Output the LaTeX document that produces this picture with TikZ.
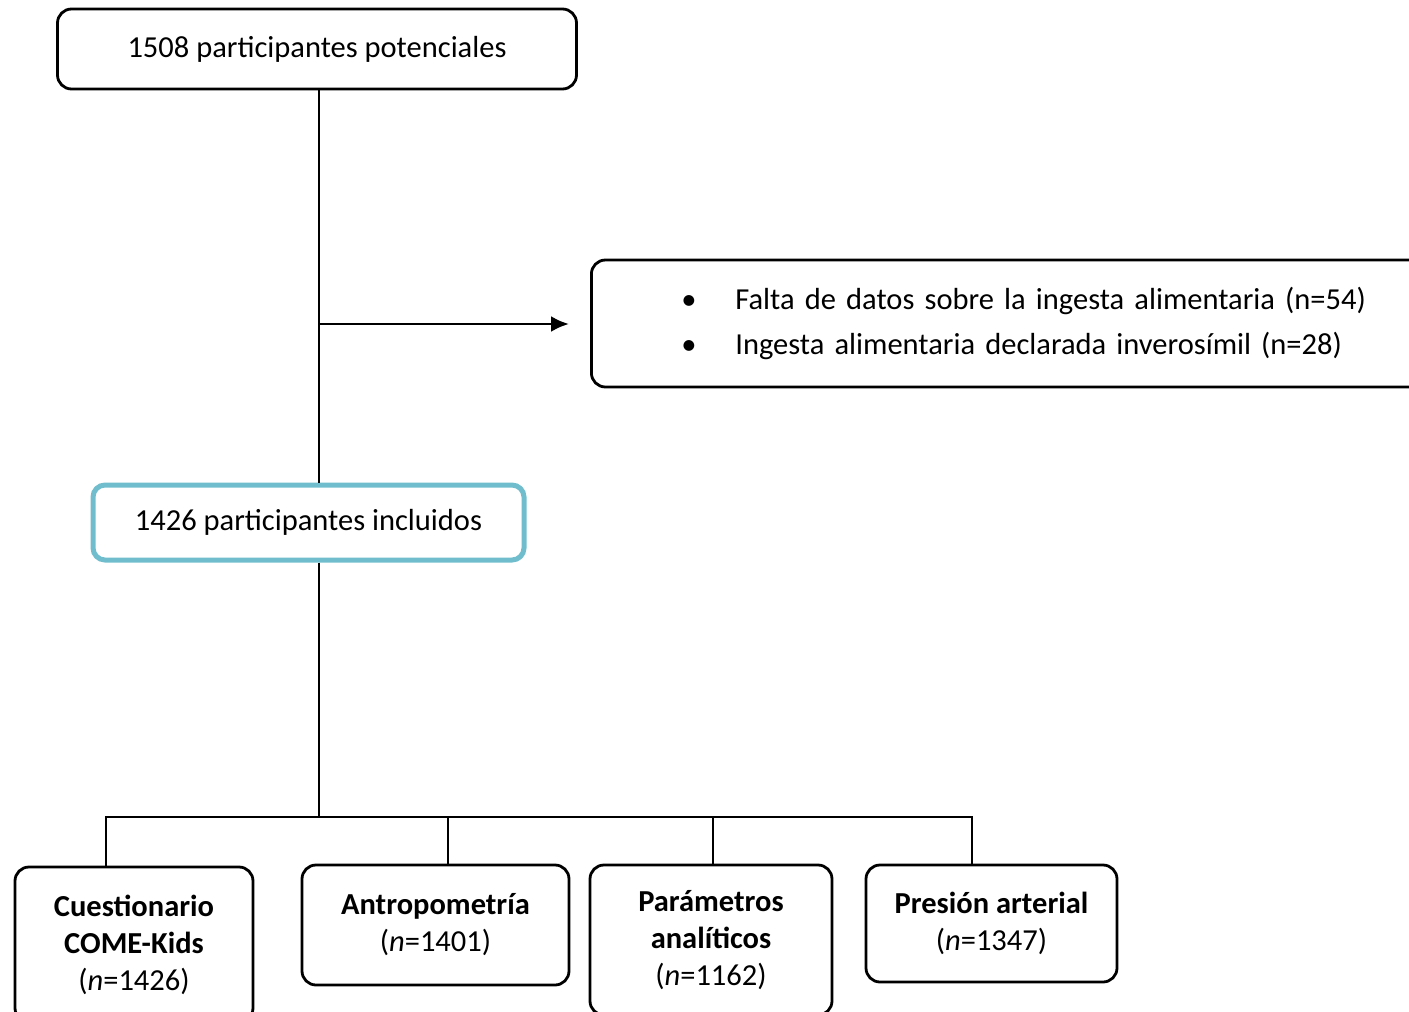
\documentclass[tikz,border=0pt]{standalone}
\usepackage{fontspec}
\setmainfont{Carlito}
\usetikzlibrary{positioning}
\usetikzlibrary{arrows.meta}
\usetikzlibrary{calc}
\definecolor{inclteal}{RGB}{112,190,205}
\tikzstyle{line} = [draw, line width=2.8pt]

\begin{document}
\begin{tikzpicture}[x=1pt, y=-1pt,
				box/.style={draw, rectangle, line width=2.8pt, rounded corners=14pt, inner sep=0pt, align=center},
				every node/.style={font=\fontsize{30.5}{37}\selectfont}]
				\useasboundingbox (0,0) rectangle (1409,1012);
				\clip (0,0) rectangle (1409,1012);
				% flujo principal
				\node[box, minimum width=519, minimum height=80](potenc) at (317,49) {1508 participantes potenciales};
				\node[box, anchor=west, align=left, inner xsep=90pt, text width=780pt, minimum height=127](exclu) at (590,323.5) {\makebox[54pt][l]{\textbullet}Falta de datos sobre la ingesta alimentaria (n=54)\\[8pt]\makebox[54pt][l]{\textbullet}Ingesta alimentaria declarada inverosímil (n=28)};
				\node[box, draw=inclteal, line width=5pt, rounded corners=12pt, minimum width=431, minimum height=75](inclu) at (308.5,522.5) {1426 participantes incluidos};
				
				% grupos de datos
				\node[box, minimum width=238, minimum height=155](cuest) at (134,944.5) {\textbf{Cuestionario}\\\textbf{COME-Kids}\\(\textit{n}=1426)};
				\node[box, minimum width=267, minimum height=120](antrop) at (435.5,925) {\textbf{Antropometría}\\(\textit{n}=1401)};
				\node[box, minimum width=242, minimum height=150](param) at (711,940) {\textbf{Parámetros}\\\textbf{analíticos}\\(\textit{n}=1162)};
				\node[box, minimum width=251, minimum height=117](presion) at (991.5,923.5) {\textbf{Presión arterial}\\(\textit{n}=1347)};
				
				\coordinate (split) at (319,324);
				\coordinate (bus) at (319,817);
				\coordinate (b1) at (106,817);
				\coordinate (b2) at (448,817);
				\coordinate (b3) at (713,817);
				\coordinate (b4) at (972,817);
				
				\draw [line] (potenc.south -| split) -- (split |- inclu.north);
				\draw [line, -{Latex[length=18pt, width=16pt]}, shorten >=21pt] (split) -- (split -| exclu.west);
				\draw [line] (split |- inclu.south) -- (bus);
				\draw [line] (b1 |- cuest.north) -- (b1) -- (b4) -- (b4 |- presion.north);
				\draw [line] (b2) -- (b2 |- antrop.north);
				\draw [line] (b3) -- (b3 |- param.north);
			\end{tikzpicture}
\end{document}
